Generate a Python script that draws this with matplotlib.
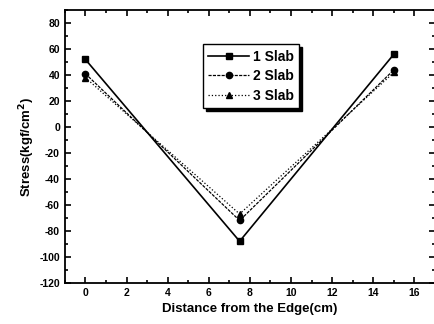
import matplotlib
matplotlib.use("Agg")
import matplotlib.pyplot as plt
from matplotlib.ticker import MultipleLocator

plt.rcParams['font.family'] = ['Liberation Sans', 'DejaVu Sans']
plt.rcParams['font.weight'] = 'bold'
plt.rcParams['axes.unicode_minus'] = False

distance = [0, 7.5, 15]
slab1 = [52, -88, 56]
slab2 = [41, -72, 44]
slab3 = [38, -67, 42]
labels = ['1 Slab', '2 Slab', '3 Slab']

fig = plt.figure(figsize=(4.35, 3.24), dpi=100)
ax = fig.add_axes([0.149, 0.127, 0.851, 0.842])

ax.plot(distance, slab1, '-', marker='s', color='black', lw=1.2, ms=4.5, label=labels[0])
ax.plot(distance, slab2, '--', marker='o', color='black', lw=0.9, ms=4.5, dashes=(2.5, 1), label=labels[1])
ax.plot(distance, slab3, ':', marker='^', color='black', lw=0.9, ms=4.5, label=labels[2])

ax.set_xlim(-1, 17)
ax.set_ylim(-120, 90)
ax.xaxis.set_major_locator(MultipleLocator(2))
ax.xaxis.set_minor_locator(MultipleLocator(1))
ax.yaxis.set_major_locator(MultipleLocator(20))
ax.yaxis.set_minor_locator(MultipleLocator(10))
ax.tick_params(which='both', direction='in', top=True, right=True, labelsize=7.5, width=1.2)
ax.tick_params(which='major', length=4)
ax.tick_params(which='minor', length=2)
for s in ax.spines.values():
    s.set_linewidth(1.3)
for lab in ax.get_xticklabels() + ax.get_yticklabels():
    lab.set_fontweight('bold')

ax.set_xlabel('Distance from the Edge(cm)', fontsize=9.5, fontweight='bold', labelpad=4)
ax.set_ylabel('Stress(kgf/cm$^2$)', fontsize=9.5, fontweight='bold', labelpad=2)

leg = ax.legend(loc='upper left', bbox_to_anchor=(0.373, 0.875), borderaxespad=0, fontsize=10,
                frameon=True, fancybox=False, shadow={'color': 'black', 'alpha': 1},
                handlelength=2.9, borderpad=0.4, labelspacing=0.4, handletextpad=0.3)
leg.get_frame().set_edgecolor('black')
leg.get_frame().set_linewidth(1.0)

fig.savefig('out.png', dpi=100)
